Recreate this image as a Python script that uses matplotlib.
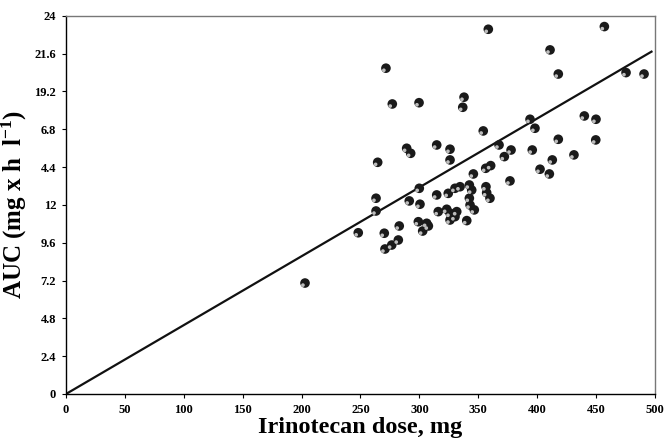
import numpy as np
import matplotlib
matplotlib.use("Agg")
import matplotlib.pyplot as plt
import matplotlib.transforms as mtransforms

plt.rcParams['font.family'] = ['Liberation Serif', 'DejaVu Serif']
plt.rcParams['font.weight'] = 'bold'
plt.rcParams['mathtext.fontset'] = 'custom'
plt.rcParams['mathtext.rm'] = 'Liberation Serif:bold'
plt.rcParams['mathtext.it'] = 'Liberation Serif:bold'
plt.rcParams['mathtext.bf'] = 'Liberation Serif:bold'

# Irinotecan dose (mg) and AUC (mg x h / l)
dose = [358.5, 457.0, 410.9, 417.9, 475.4, 490.7, 271.6, 277.0, 299.7, 337.9,
        336.8, 354.2, 393.9, 398.1, 440.0, 449.9, 417.9, 449.7, 367.6, 377.8,
        372.1, 395.8, 412.8, 431.2, 402.4, 410.3, 314.7, 326.0, 326.0, 289.2,
        292.6, 264.6, 356.3, 360.5, 345.8, 376.9, 299.9, 314.7, 324.5, 330.2,
        334.5, 342.4, 344.4, 356.5, 357.1, 359.9, 342.4, 343.0, 346.6, 316.0,
        323.2, 326.0, 331.7, 340.2, 326.0, 330.2, 299.1, 306.2, 307.6, 282.9,
        263.2, 263.2, 291.4, 300.5, 248.1, 270.2, 270.8, 276.5, 282.1, 202.9,
        302.8]
auc = [23.14, 23.31, 21.83, 20.30, 20.39, 20.30, 20.67, 18.40, 18.48, 18.83,
       18.19, 16.69, 17.43, 16.86, 17.64, 17.43, 16.16, 16.12, 15.80, 15.48,
       15.06, 15.48, 14.85, 15.17, 14.26, 13.96, 15.80, 15.53, 14.85, 15.59,
       15.27, 14.70, 14.32, 14.49, 13.96, 13.52, 13.05, 12.63, 12.73, 13.05,
       13.15, 13.26, 12.94, 13.15, 12.77, 12.42, 12.42, 11.99, 11.68, 11.57,
       11.72, 11.47, 11.57, 11.00, 11.04, 11.25, 10.93, 10.83, 10.66, 10.66,
       12.42, 11.61, 12.25, 12.04, 10.23, 10.20, 9.20, 9.45, 9.77, 7.04,
       10.34]

# regression through origin
slope = 0.0437
line_x = [0, 497]

x_ticks = [0, 50, 100, 150, 200, 250, 300, 350, 400, 450, 500]
y_ticks = [0, 2.4, 4.8, 7.2, 9.6, 12, 14.4, 16.8, 19.2, 21.6, 24]
y_tick_labels = ["0", "2.4", "4.8", "7.2", "9.6", "12", "4.4", "6.8", "19.2", "21.6", "24"]

fig = plt.figure(figsize=(6.65, 4.42), dpi=100)
ax = fig.add_axes([0.0992, 0.1086, 0.8858, 0.8559])

ax.plot(line_x, [slope * v for v in line_x], color='#111111', lw=1.6, zorder=2)

# dark balls with a light spot
ax.scatter(dose, auc, s=48, color='#1a1a1a', edgecolors='none', zorder=3)
hl = mtransforms.offset_copy(ax.transData, fig=fig, x=-1.5, y=-1.5, units='points')
ax.scatter(dose, auc, s=7, color='#bdbdbd', edgecolors='none', zorder=4, transform=hl)

ax.set_xlim(0, 500)
ax.set_ylim(0, 24)
ax.set_xticks(x_ticks)
ax.set_yticks(y_ticks)
ax.set_yticklabels(y_tick_labels)
ax.tick_params(labelsize=9, length=3, width=0.8, direction='out', pad=4)

for s in ['top', 'right']:
    ax.spines[s].set_color('#777777')
    ax.spines[s].set_linewidth(1.0)
for s in ['left', 'bottom']:
    ax.spines[s].set_linewidth(1.0)

ax.set_xlabel("Irinotecan dose, mg", fontsize=17.5, fontweight='bold', labelpad=1)
ax.set_ylabel(r"AUC (mg x h  l$^{-1}$)", fontsize=18, fontweight='bold', labelpad=4)

fig.savefig("out.png", dpi=100)
